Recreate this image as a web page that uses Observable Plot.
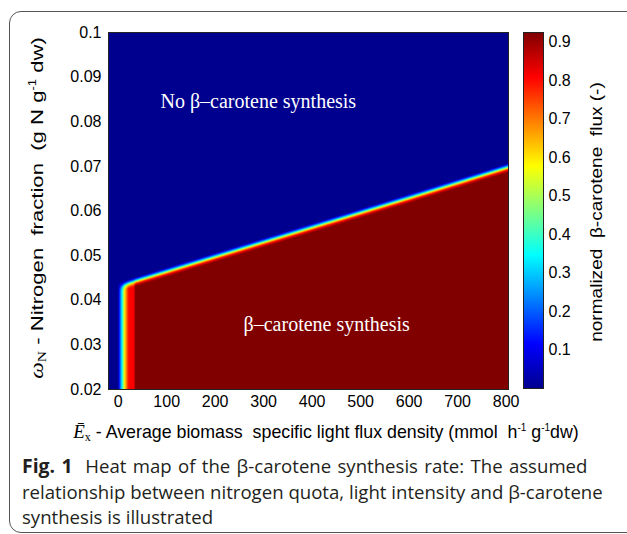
<!DOCTYPE html>
<html><head><meta charset="utf-8">
<script src="https://cdn.jsdelivr.net/npm/d3@7"></script>
<script src="https://cdn.jsdelivr.net/npm/@observablehq/plot@0.6"></script>
<style>
html,body{margin:0;padding:0;background:#fff;}
#wrap{position:relative;width:627px;height:534px;overflow:hidden;font-family:"Liberation Sans",Arial,sans-serif;color:#000;}
#wrap svg{position:absolute;left:0;top:0;}
.frame{position:absolute;left:9px;top:11px;width:680px;height:520px;border:1px solid #555;border-radius:12px;}
.rot{position:absolute;white-space:nowrap;font-size:17px;}
.serif{font-family:"Liberation Serif","Times New Roman",serif;}
.xlab{position:absolute;left:326px;top:433px;transform:translate(-50%,-50%);white-space:nowrap;font-size:17.8px;}
sup{font-size:10px;vertical-align:7px;}
sub{font-size:12px;vertical-align:-3px;}
.cap{position:absolute;left:22px;font-family:"Open Sans",sans-serif;font-size:18.6px;line-height:25.5px;color:#231f20;white-space:nowrap;}
.cap b{font-weight:700;font-size:19.4px;}
</style></head>
<body><div id="wrap"><div class="frame"></div></div>
<script>
// axis domains and ticks
const xDomain = [-20, 805];
const yDomain = [0.02, 0.1];
const xTicks = [0, 100, 200, 300, 400, 500, 600, 700, 800];
const yTicks = [0.02, 0.03, 0.04, 0.05, 0.06, 0.07, 0.08, 0.09, 0.1];
const fluxDomain = [0, 0.925];
const colorbarTicks = [0.1, 0.2, 0.3, 0.4, 0.5, 0.6, 0.7, 0.8, 0.9];
const jetColors = ["#00008f", "#0000ff", "#0080ff", "#00ffff", "#80ff80", "#ffff00", "#ff8000", "#ff0000", "#800000"];
// boundary between synthesis / no synthesis
const boundaryX = [0, 4, 20, 37, 200, 400, 600, 805];
const boundaryY = [0.0430, 0.0431, 0.0436, 0.0442, 0.0496, 0.0562, 0.0628, 0.0697];
// flux profile along light axis (left edge of map)
const lightX = [0, 1, 4, 8, 11, 14, 18, 21, 33, 35];
const lightFlux = [0, 0.08, 0.2, 0.35, 0.5, 0.62, 0.72, 0.8, 0.82, 0.925];
// transition across the boundary (offset in nitrogen fraction)
const edgeOffset = [-0.0010, -0.0004, 0, 0.0004, 0.0010];
const edgeFactor = [1, 0.85, 0.6, 0.3, 0];
// in-plot labels
const labelText = ["No β–carotene synthesis", "β–carotene synthesis"];
const labelX = [289, 430];
const labelY = [0.0845, 0.0346];
// caption
const captionLead = "Fig. 1";
const captionLines = ["Heat map of the β-carotene synthesis rate: The assumed", "relationship between nitrogen quota, light intensity and β-carotene", "synthesis is illustrated"];

const boundary = d3.scaleLinear().domain(boundaryX).range(boundaryY).clamp(true);
const light = d3.scaleLinear().domain(lightX).range(lightFlux).clamp(true);
const edge = d3.scaleLinear().domain(edgeOffset).range(edgeFactor).clamp(true);
const flux = (x, y) => light(x) * edge(y - boundary(x));
const labels = labelText.map((t, i) => ({text: t, x: labelX[i], y: labelY[i]}));

const color = {type: "linear", domain: fluxDomain, interpolate: d3.piecewise(d3.interpolateRgb, jetColors)};
const baseStyle = {fontFamily: "'Liberation Sans', Arial, sans-serif", fontSize: "16px", background: "transparent", color: "#000", overflow: "visible"};

const main = Plot.plot({
  width: 627, height: 534,
  marginLeft: 108, marginRight: 119, marginTop: 32, marginBottom: 145,
  style: baseStyle,
  x: {domain: xDomain},
  y: {domain: yDomain},
  color,
  marks: [
    Plot.raster({fill: flux, x1: xDomain[0], x2: xDomain[1], y1: yDomain[0], y2: yDomain[1]}),
    Plot.text(labels, {x: "x", y: "y", text: "text", fill: "white", fontSize: 20, fontFamily: "'Liberation Serif', 'Times New Roman', serif"}),
    Plot.frame({stroke: "#222", strokeWidth: 1}),
    Plot.axisX(xTicks, {tickSize: 0, tickPadding: 6, fontSize: 16, label: null}),
    Plot.axisY(yTicks, {tickSize: 0, tickPadding: 7, fontSize: 16, label: null, tickFormat: d => String(d)})
  ]
});
const bar = Plot.plot({
  width: 627, height: 534,
  marginLeft: 523, marginRight: 84, marginTop: 32, marginBottom: 146,
  style: baseStyle,
  x: {domain: [0, 1], axis: null},
  y: {domain: fluxDomain},
  color,
  marks: [
    Plot.raster({fill: (x, y) => y, x1: 0, x2: 1, y1: fluxDomain[0], y2: fluxDomain[1]}),
    Plot.frame({stroke: "#222", strokeWidth: 1}),
    Plot.axisY(colorbarTicks, {anchor: "right", tickSize: 0, tickPadding: 5, fontSize: 16, label: null, tickFormat: d => String(d)})
  ]
});
const wrap = document.getElementById("wrap");
wrap.appendChild(main);
wrap.appendChild(bar);

function addHTML(html) { const d = document.createElement("div"); d.innerHTML = html; while (d.firstChild) wrap.appendChild(d.firstChild); }
addHTML(`<div class="rot" style="left:38px;top:208px;transform:translate(-50%,-50%) rotate(-90deg) scaleX(1.3);"><span class="serif" style="font-style:italic;font-size:18px">ω</span><sub class="serif">N</sub> - Nitrogen&nbsp; fraction&nbsp; (g N g<sup>-1</sup> dw)</div>`);
addHTML(`<div class="rot" style="left:597px;top:212px;transform:translate(-50%,-50%) rotate(-90deg) scaleX(1.12);">normalized&nbsp; β-carotene&nbsp; flux (-)</div>`);
addHTML(`<div class="xlab"><span class="serif" style="font-style:italic;font-size:19px">Ē</span><sub class="serif">x</sub> - Average biomass&nbsp; specific light flux density (mmol&nbsp; h<sup>-1</sup> g<sup>-1</sup>dw)</div>`);
addHTML(`<div class="cap" style="top:453px;word-spacing:1.5px"><b>${captionLead}</b>&nbsp; ${captionLines[0]}</div>`);
addHTML(`<div class="cap" style="top:478.5px">${captionLines[1]}</div>`);
addHTML(`<div class="cap" style="top:504px">${captionLines[2]}</div>`);
</script></body></html>
